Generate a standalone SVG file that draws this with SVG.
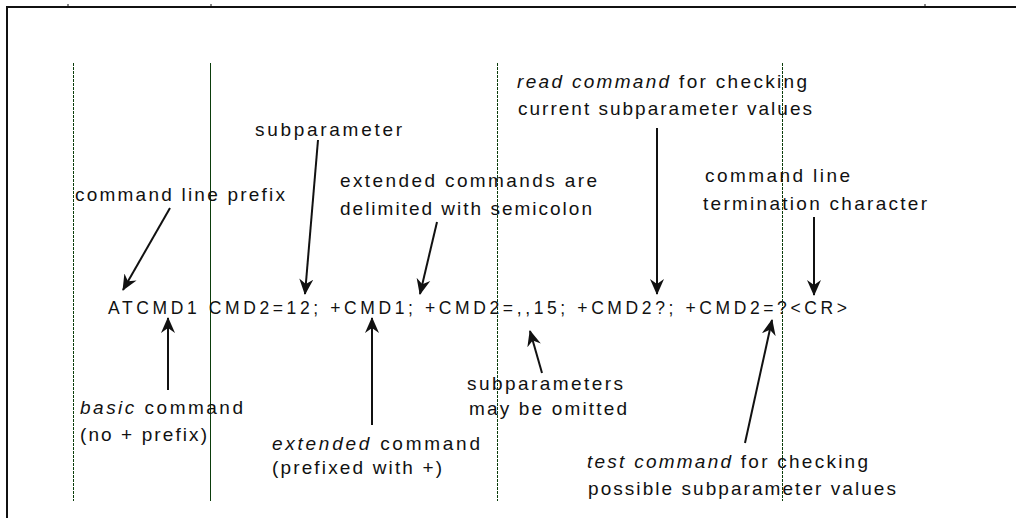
<svg xmlns="http://www.w3.org/2000/svg" width="1016" height="518" viewBox="0 0 1016 518">
<style>
text{font-family:"Liberation Sans",Arial,sans-serif;font-size:19px;fill:#111}
.main{font-size:17.5px}
.i{font-style:italic}
.guide{stroke:#0b3d0b;stroke-width:1;fill:none}
.dash{stroke-dasharray:3 1}
.conn{stroke:#111;stroke-width:2;fill:none;marker-end:url(#ah)}
</style>
<defs>
<marker id="ah" markerUnits="userSpaceOnUse" markerWidth="16" markerHeight="16" viewBox="0 0 16 16" refX="15" refY="8" orient="auto">
<path d="M0,1 L16,8 L0,15 L5,8 Z" fill="#111"/>
</marker>
</defs>
<rect width="1016" height="518" fill="#fff"/>
<g id="frame">
<path d="M7,518 V7 H1016" stroke="#111" stroke-width="2" fill="none"/>
<path d="M68,4 V7 M211,4 V7 M925,4 V7" stroke="#111" stroke-width="1"/>
</g>
<g id="guides">
<line class="guide dash" x1="73.5" y1="63" x2="73.5" y2="501"/>
<line class="guide" x1="210.5" y1="63" x2="210.5" y2="501"/>
<line class="guide dash" x1="497.5" y1="63" x2="497.5" y2="501"/>
<line class="guide dash" x1="782.5" y1="63" x2="782.5" y2="501"/>
</g>
<g id="connectors">
<line class="conn" x1="170" y1="208" x2="123" y2="290"/>
<line class="conn" x1="318" y1="140" x2="305" y2="294"/>
<line class="conn" x1="437" y1="222" x2="420" y2="294"/>
<line class="conn" x1="657" y1="128" x2="657" y2="294"/>
<line class="conn" x1="814" y1="217" x2="814" y2="295"/>
<line class="conn" x1="168" y1="390" x2="168" y2="318"/>
<line class="conn" x1="372" y1="425" x2="372" y2="318"/>
<line class="conn" x1="542" y1="373" x2="530" y2="331"/>
<line class="conn" x1="745" y1="443" x2="772" y2="320"/>
</g>
<g id="command-line">
<text class="main" x="108" y="314" textLength="739" lengthAdjust="spacing">ATCMD1 CMD2=12; +CMD1; +CMD2=,,15; +CMD2?; +CMD2=?&lt;CR&gt;</text>
</g>
<g id="prefix-label">
<text x="75" y="201" textLength="210" lengthAdjust="spacing">command line prefix</text>
</g>
<g id="subparameter-label">
<text x="255" y="136" textLength="147" lengthAdjust="spacing">subparameter</text>
</g>
<g id="semicolon-label">
<text x="340" y="187" textLength="257" lengthAdjust="spacing">extended commands are</text>
<text x="340" y="215" textLength="252" lengthAdjust="spacing">delimited with semicolon</text>
</g>
<g id="read-label">
<text x="517" y="88" textLength="290" lengthAdjust="spacing"><tspan class="i">read command</tspan> for checking</text>
<text x="518" y="115" textLength="294" lengthAdjust="spacing">current subparameter values</text>
</g>
<g id="termination-label">
<text x="705" y="182" textLength="145" lengthAdjust="spacing">command line</text>
<text x="703" y="210" textLength="224" lengthAdjust="spacing">termination character</text>
</g>
<g id="basic-label">
<text x="80" y="414" textLength="163" lengthAdjust="spacing"><tspan class="i">basic</tspan> command</text>
<text x="80" y="441" textLength="127" lengthAdjust="spacing">(no + prefix)</text>
</g>
<g id="extended-label">
<text x="272" y="450" textLength="208" lengthAdjust="spacing"><tspan class="i">extended</tspan> command</text>
<text x="272" y="474" textLength="170" lengthAdjust="spacing">(prefixed with +)</text>
</g>
<g id="omitted-label">
<text x="467" y="390" textLength="156" lengthAdjust="spacing">subparameters</text>
<text x="469" y="415" textLength="158" lengthAdjust="spacing">may be omitted</text>
</g>
<g id="test-label">
<text x="587" y="468" textLength="281" lengthAdjust="spacing"><tspan class="i">test command</tspan> for checking</text>
<text x="588" y="495" textLength="308" lengthAdjust="spacing">possible subparameter values</text>
</g>
</svg>
